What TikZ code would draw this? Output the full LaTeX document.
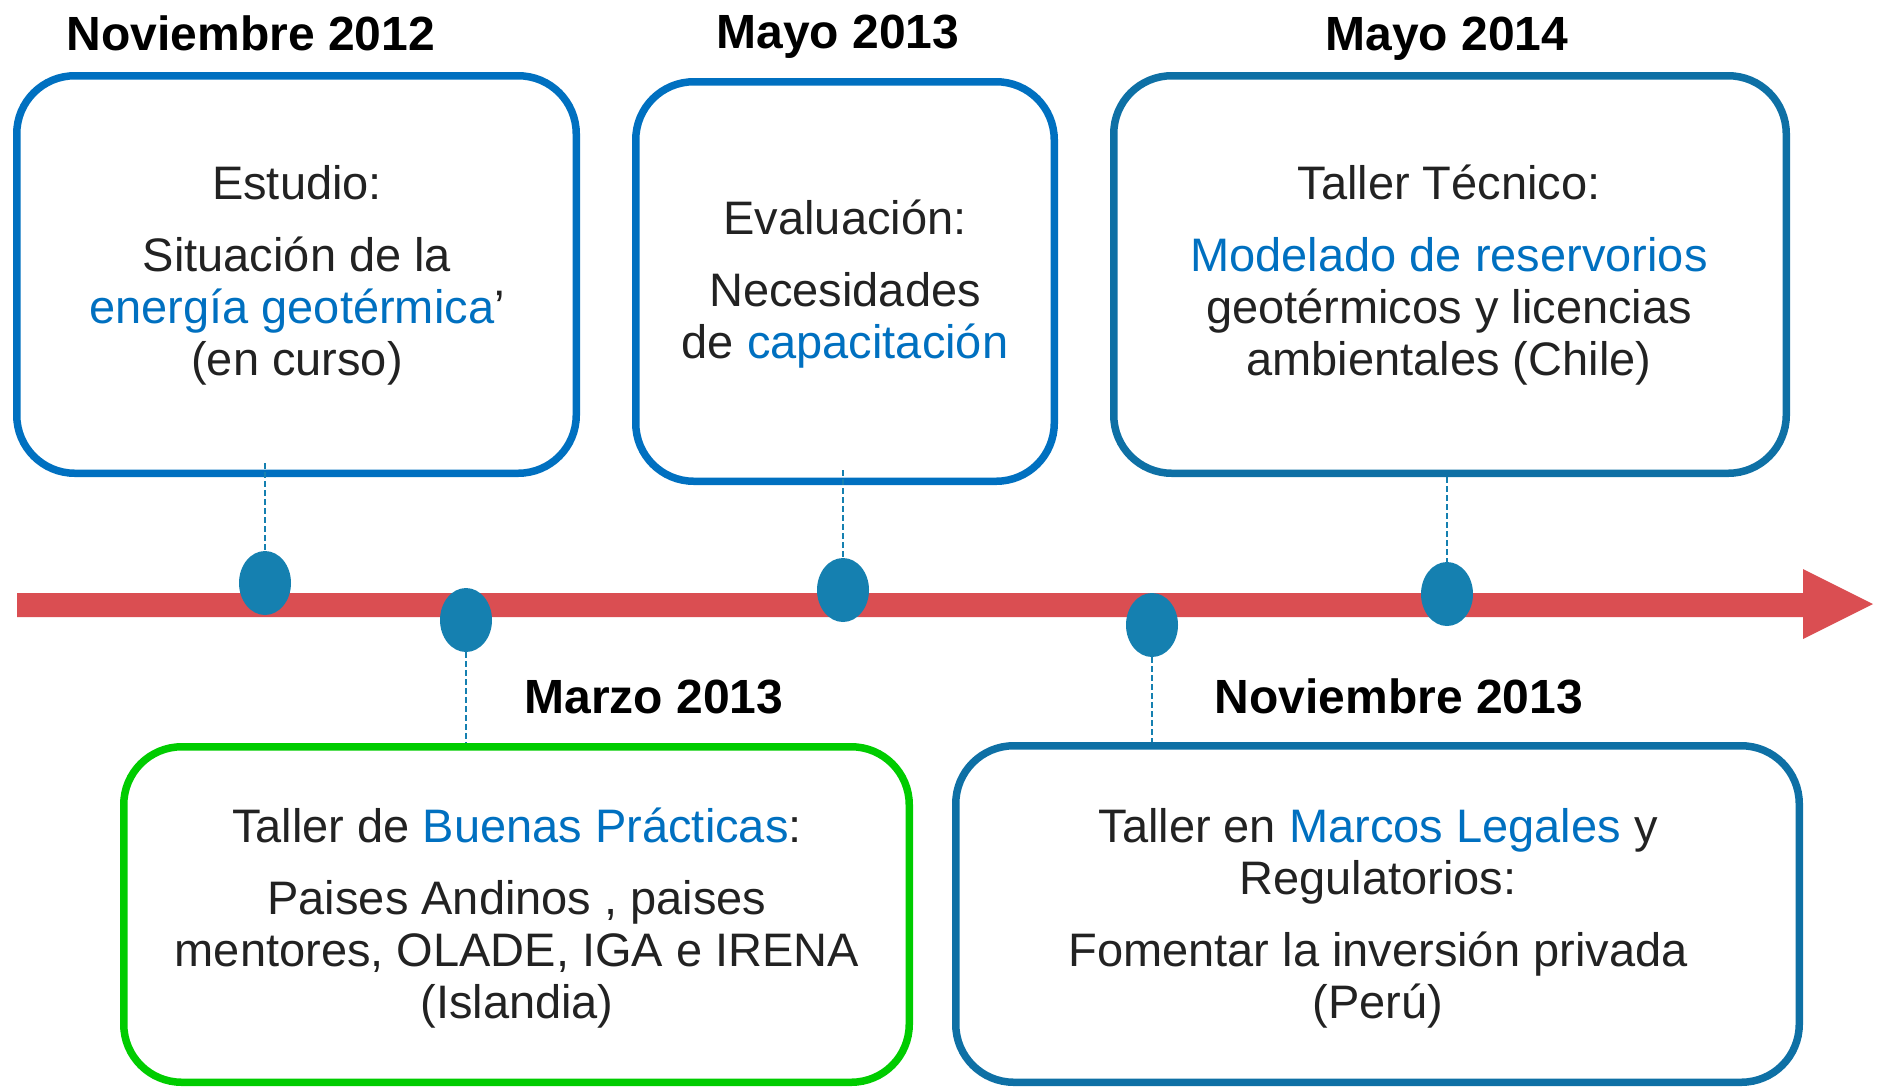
\documentclass[tikz,border=0pt]{standalone}
\usepackage{fontspec}
\setmainfont{Liberation Sans}
\usetikzlibrary{shapes.geometric}
\definecolor{bblue}{HTML}{0070C0}
\definecolor{sblue}{HTML}{0E70A5}
\definecolor{ggreen}{HTML}{00CC00}
\definecolor{dotc}{HTML}{1580B0}
\definecolor{arrowred}{HTML}{DA4E52}
\definecolor{txt}{HTML}{222222}
\begin{document}
\begin{tikzpicture}[x=1pt,y=-1pt,
  box/.style={draw, rectangle, rounded corners=58pt, line width=7.5pt, inner sep=0pt, outer sep=0pt},
  body/.style={anchor=base, align=center, text=txt, font=\fontsize{47}{52}\selectfont, inner sep=0pt},
  head/.style={anchor=base, text=black, font=\fontsize{48}{52}\selectfont\bfseries, inner sep=0pt},
  dot/.style={ellipse, fill=dotc, minimum width=52pt, minimum height=64pt, inner sep=0pt},
  link/.style={draw=dotc, line width=1.5pt, dash pattern=on 6pt off 3pt}]
\useasboundingbox (0,0) rectangle (1879,1088);

% timeline arrow
\fill[arrowred] (17,593) -- (1803,593) -- (1803,569) -- (1873,604) -- (1803,639) -- (1803,617) -- (17,617) -- cycle;

% boxes
\node[box, draw=bblue, minimum width=559.5pt, minimum height=397.5pt] (b1) at (296.5,274.5) {};
\node[box, draw=bblue, minimum width=418.5pt, minimum height=399.5pt] (b2) at (845,281.5) {};
\node[box, draw=sblue, minimum width=672.5pt, minimum height=397.5pt] (b3) at (1450,274.5) {};
\node[box, draw=ggreen, minimum width=785.5pt, minimum height=335.5pt] (b4) at (516.5,914.5) {};
\node[box, draw=sblue, minimum width=843.5pt, minimum height=336.5pt] (b5) at (1377.5,914) {};

% headings
\node[head] (h1) at (251,50) {Noviembre 2012};
\node[head] (h2) at (838,48) {Mayo 2013};
\node[head] (h3) at (1447,50) {Mayo 2014};
\node[head] (h4) at (654,713) {Marzo 2013};
\node[head] (h5) at (1399,713) {Noviembre 2013};

% box texts (anchor = baseline of last line)
\node[body] (t1) at (297,375) {Estudio:\\[20pt]Situación de la\\{\color{bblue}energía geotérmica}’\\(en curso)};
\node[body] (t2) at (845,358) {Evaluación:\\[20pt]Necesidades\\de {\color{bblue}capacitación}};
\node[body] (t3) at (1449,375) {Taller Técnico:\\[20pt]{\color{bblue}Modelado de reservorios}\\geotérmicos y licencias\\ambientales (Chile)};
\node[body] (t4) at (517,1018) {Taller de {\color{bblue}Buenas Prácticas}:\\[20pt]Paises Andinos , paises\\mentores, OLADE, IGA e IRENA\\(Islandia)};
\node[body] (t5) at (1378,1018) {Taller en {\color{bblue}Marcos Legales} y\\Regulatorios:\\[20pt]Fomentar la inversión privada\\(Perú)};

% dots
\node[dot] (d1) at (265,583) {};
\node[dot] (d2) at (466,620) {};
\node[dot] (d3) at (843,590) {};
\node[dot] (d4) at (1152,625) {};
\node[dot] (d5) at (1447,594) {};

% dashed links
\coordinate (c1) at (265,463);
\coordinate (c2) at (466,743);
\coordinate (c3) at (843,470);
\coordinate (c4) at (1152,742);
\coordinate (c5) at (1447,477);
\draw[link] (c1) -- (d1.north);
\draw[link] (d2.south) -- (c2);
\draw[link] (c3) -- (d3.north);
\draw[link] (d4.south) -- (c4);
\draw[link] (c5) -- (d5.north);
\end{tikzpicture}
\end{document}
